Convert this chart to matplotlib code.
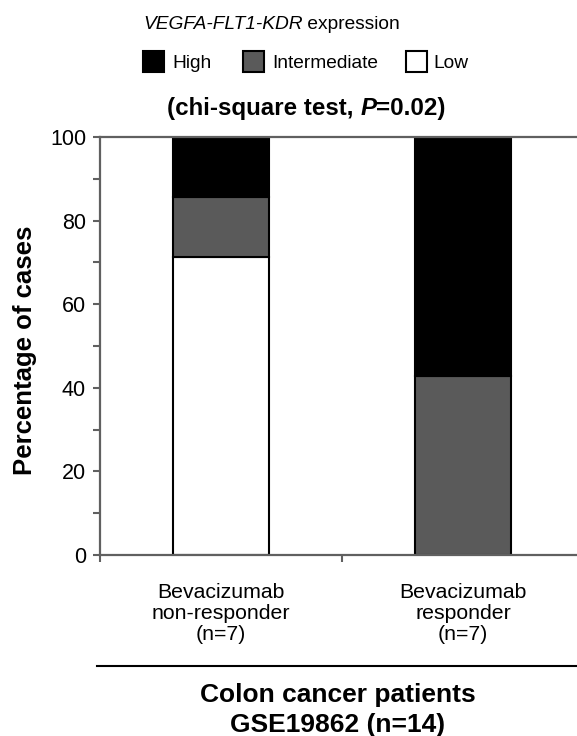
import matplotlib.pyplot as plt
from matplotlib.patches import Rectangle

plt.rcParams['font.family'] = ['Liberation Sans', 'DejaVu Sans']

# data (percentage of cases)
categories = ['Bevacizumab\nnon-responder\n(n=7)', 'Bevacizumab\nresponder\n(n=7)']
levels = ['High', 'Intermediate', 'Low']
low = [71.4, 0.0]
intermediate = [14.3, 42.9]
high = [14.3, 57.1]
colors = {'High': '#000000', 'Intermediate': '#5a5a5a', 'Low': '#ffffff'}
yticks = [0, 20, 40, 60, 80, 100]

W, H = 577, 736
fig = plt.figure(figsize=(W / 100, H / 100), dpi=100)

def fx(x):
    return x / W

def fy(y):
    return 1 - y / H

# axes spans px 100..584 horizontally, 137..555 vertically
ax = fig.add_axes([fx(100), fy(555), fx(584) - fx(100), fy(137) - fy(555)])

xs = range(len(categories))
bw = 0.4
ax.bar(xs, low, bw, color=colors['Low'], edgecolor='black', lw=1.5, zorder=2)
ax.bar(xs, intermediate, bw, bottom=low, color=colors['Intermediate'],
       edgecolor='black', lw=1.5, zorder=2)
bot = [a + b for a, b in zip(low, intermediate)]
ax.bar(xs, high, bw, bottom=bot, color=colors['High'], edgecolor='black', lw=1.5, zorder=2)

ax.set_xlim(-0.5, 1.5)
ax.set_ylim(0, 100)
ax.set_yticks(yticks)
ax.set_yticks([10, 30, 50, 70, 90], minor=True)
ax.set_xticks([-0.5, 0.5, 1.5])
ax.set_xticklabels([])
ax.tick_params(axis='y', which='both', direction='out', length=5, width=1.5,
               color='#606060', labelsize=15.5, pad=5)
ax.tick_params(axis='x', direction='out', length=5, width=1.5, color='#606060')
for s in ['left', 'bottom', 'top', 'right']:
    ax.spines[s].set_color('#606060')
    ax.spines[s].set_linewidth(1.6)

for i, c in enumerate(categories):
    ax.text(i, -6.6, c, ha='center', va='top', fontsize=15.3, linespacing=1.15)

fig.text(fx(25), fy(350), 'Percentage of cases', rotation=90, ha='center', va='center',
         fontsize=18.5, fontweight='bold')

# bottom group label
fig.add_artist(plt.Line2D([fx(97), 1.0], [fy(666), fy(666)], color='black', lw=1.5))
fig.text(fx(338), fy(702), 'Colon cancer patients', ha='center', va='baseline',
         fontsize=19, fontweight='bold')
fig.text(fx(338), fy(732), 'GSE19862 (n=14)', ha='center', va='baseline',
         fontsize=19, fontweight='bold')

# top heading with italic gene names
t1 = fig.text(fx(143), fy(29), 'VEGFA-FLT1-KDR', ha='left', va='baseline',
              fontsize=13.8, style='italic')
ax.annotate(' expression', xy=(1, 0), xycoords=t1, va='bottom', ha='left',
            fontsize=13.8, annotation_clip=False)

# legend
sq = 21
for lab, x0, tx in zip(levels, [143, 243, 406], [172, 272, 433]):
    fig.add_artist(Rectangle((fx(x0), fy(72)), fx(sq), sq / H, transform=fig.transFigure,
                             facecolor=colors[lab], edgecolor='black', lw=1.5))
    fig.text(fx(tx), fy(68), lab, ha='left', va='baseline', fontsize=13.8)

# title with italic P
t2 = fig.text(fx(167), fy(115), '(chi-square test, ', ha='left', va='baseline',
              fontsize=17.4, fontweight='bold')
t3 = ax.annotate('P', xy=(1, 0), xycoords=t2, va='bottom', ha='left',
                 fontsize=17.4, fontweight='bold', style='italic', annotation_clip=False)
ax.annotate('=0.02)', xy=(1, 0), xycoords=t3, va='bottom', ha='left',
            fontsize=17.4, fontweight='bold', annotation_clip=False)

fig.savefig('out.png', dpi=100)
